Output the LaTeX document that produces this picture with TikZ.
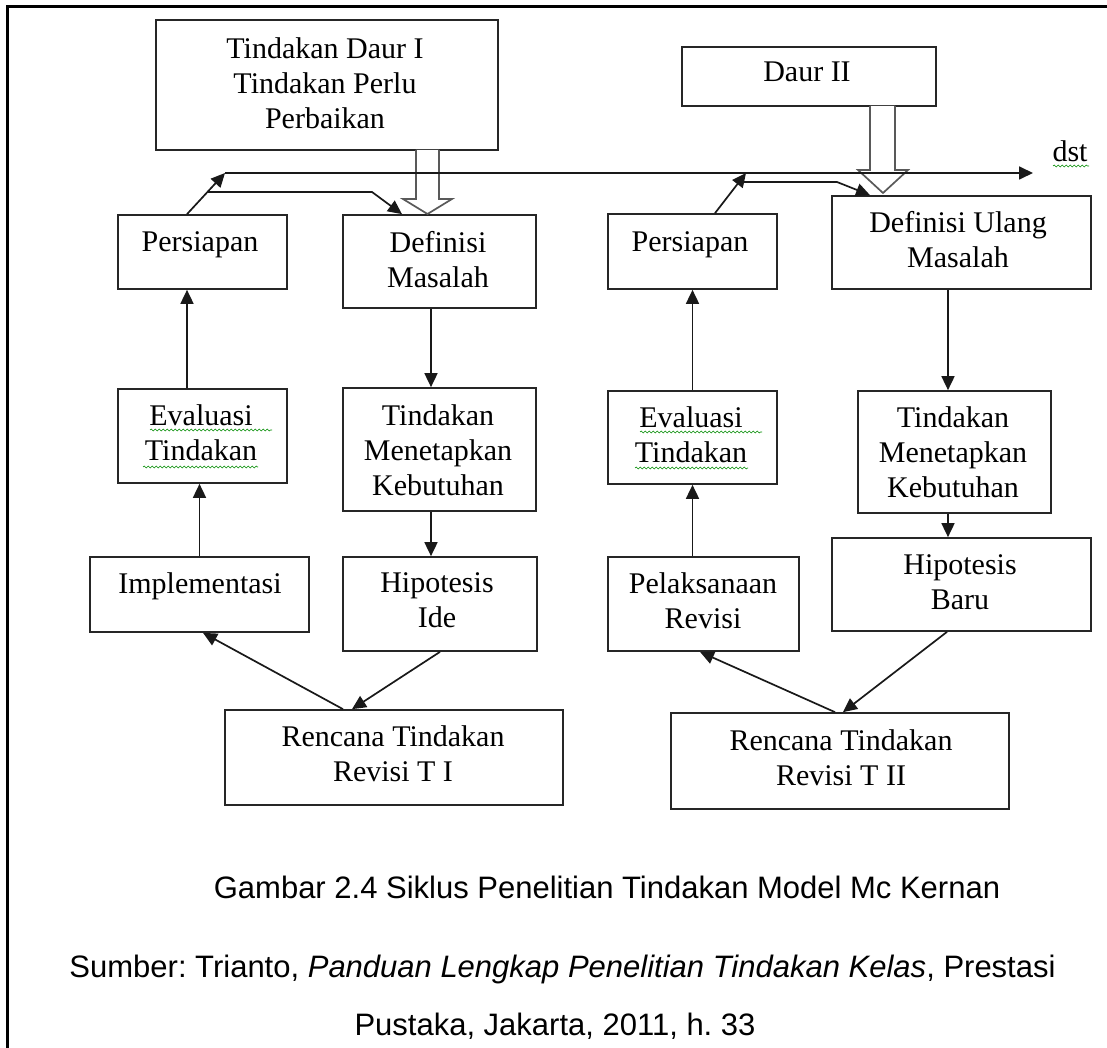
\documentclass[tikz,border=0pt]{standalone}
\usepackage{fontspec}
\setmainfont{Liberation Serif}
\newfontfamily\capfont{Liberation Sans}
\usetikzlibrary{arrows.meta,decorations.pathmorphing}
\frenchspacing

% box with corners (x1,y1)-(x2,y2), y growing downwards
\newcommand\boxat[5]{%
  \node[box, minimum width={(#4-#2)*1pt}, minimum height={(#5-#3)*1pt}]
    (#1) at ({(#2+#4)/2},{(#3+#5)/2}) {};}

\begin{document}
\begin{tikzpicture}[x=1pt,y=-1pt,
  box/.style={draw=black!85, line width=1.7pt, inner sep=0pt},
  txt/.style={inner sep=0pt, align=center, font=\fontsize{30}{35}\selectfont},
  arr/.style={draw=black!90, line width=1.7pt, -{Triangle[length=14pt,width=13pt]}},
  hollow/.style={draw=black!65, line width=1.7pt, fill=white, line join=miter},
  squig/.style={draw=green!55!black, line width=0.6pt,
    decorate, decoration={snake, amplitude=0.9pt, segment length=4pt}},
  captext/.style={inner sep=0pt, font=\capfont\fontsize{31}{36}\selectfont}
]
\useasboundingbox (0,0) rectangle (1107,1048);
\fill[white] (0,0) rectangle (1107,1048);

% outer frame (left and top edges)
\draw[line width=3pt] (7,1048) -- (7,7) -- (1107,7);

% ---- boxes ----
\boxat{daur1}{156}{20}{498}{150}
\boxat{daur2}{682}{47}{936}{106}
\boxat{pers1}{118}{215}{287}{289}
\boxat{def1}{343}{215}{536}{308}
\boxat{eval1}{118}{389}{287}{483}
\boxat{tind1}{343}{388}{536}{511}
\boxat{impl}{90}{557}{309}{632}
\boxat{hip1}{343}{557}{537}{651}
\boxat{ren1}{225}{710}{563}{805}
\boxat{pers2}{608}{214}{777}{289}
\boxat{def2}{832}{196}{1091}{289}
\boxat{eval2}{608}{391}{777}{484}
\boxat{tind2}{858}{391}{1051}{513}
\boxat{hip2}{832}{538}{1091}{631}
\boxat{pel}{608}{557}{799}{651}
\boxat{ren2}{671}{713}{1009}{809}

% ---- texts ----
\node[txt, anchor=north] (tdaur1) at (325,37.5) {Tindakan Daur I\\Tindakan Perlu\\Perbaikan};
\node[txt, anchor=base]  (tdaur2) at (807,82) {Daur II};
\node[txt, anchor=base]  (tpers1) at (200,252) {Persiapan};
\node[txt, anchor=north] (tdef1) at (438,231.5) {Definisi\\Masalah};
\node[txt, anchor=north] (teval1) at (201,404.5) {Evaluasi\\Tindakan};
\node[txt, anchor=north] (ttind1) at (438,404.5) {Tindakan\\Menetapkan\\Kebutuhan};
\node[txt, anchor=base]  (timpl) at (200,593) {Implementasi};
\node[txt, anchor=north] (thip1) at (437,572.5) {Hipotesis\\Ide};
\node[txt, anchor=north] (tren1) at (393,725.5) {Rencana Tindakan\\Revisi T I};
\node[txt, anchor=base]  (tpers2) at (690,252) {Persiapan};
\node[txt, anchor=north] (tdef2) at (958,211.5) {Definisi Ulang\\Masalah};
\node[txt, anchor=north] (teval2) at (691,406.5) {Evaluasi\\Tindakan};
\node[txt, anchor=north] (ttind2) at (953,406.5) {Tindakan\\Menetapkan\\Kebutuhan};
\node[txt, anchor=north] (thip2) at (960,554.5) {Hipotesis\\Baru};
\node[txt, anchor=north] (tpel) at (703,572.5) {Pelaksanaan\\Revisi};
\node[txt, anchor=north] (tren2) at (841,729.5) {Rencana Tindakan\\Revisi T II};
\node[txt, anchor=base]  (tdst) at (1070,162) {dst};

% spelling squiggles
\draw[squig] (150,430) -- (272,430);
\draw[squig] (143,467) -- (258,467);
\draw[squig] (640,432) -- (762,432);
\draw[squig] (635,468) -- (748,468);
\draw[squig] (1053,166) -- (1089,166);

% ---- hollow block arrows ----
\coordinate (h1) at (427.5,150);
\draw[hollow] (h1) ++(-11.5,0) -- ++(0,49) -- ++(-13,0) -- (427.5,214)
  -- (452,199) -- (439,199) -- (439,150);
\coordinate (h2) at (882.5,106);
\draw[hollow] (h2) ++(-12.5,0) -- ++(0,64) -- ++(-12,0) -- (883,193)
  -- (908,170) -- (895,170) -- (895,106);

% ---- connectors, left cycle ----
\coordinate (topL) at (225,173);
\coordinate (lineEnd) at (1033,173);
\coordinate (brL) at (208,192);
\coordinate (bkL) at (372,192);
\draw[arr] (topL) -- (lineEnd);
\draw[arr] ([xshift=-15.5pt]pers1.north) -- (topL);
\draw[arr] (brL) -- (bkL) -- ([xshift=-37.5pt]def1.north);
\draw[arr] ([xshift=-8.5pt]def1.south) -- ([xshift=-8.5pt]tind1.north);
\draw[arr] ([xshift=-8.5pt]tind1.south) -- ([xshift=-8.5pt]tind1.south |- hip1.north);
\draw[arr] (hip1.south) -- ([xshift=-42pt]ren1.north);
\draw[arr] ([xshift=-51pt]ren1.north) -- ([xshift=3.5pt]impl.south);
\draw[arr] (impl.north) -- (impl.north |- eval1.south);
\draw[arr] ([xshift=-15.5pt]eval1.north) -- ([xshift=-15.5pt]pers1.south);

% ---- connectors, right cycle ----
\coordinate (topR) at (746,173);
\coordinate (brR) at (741,182);
\coordinate (bkR) at (837,182);
\draw[arr] ([xshift=22.5pt]pers2.north) -- (topR);
\draw[arr] (brR) -- (bkR) -- ([xshift=-91.5pt]def2.north);
\draw[arr] ([xshift=-13.5pt]def2.south) -- ([xshift=-13.5pt]def2.south |- tind2.north);
\draw[arr] ([xshift=-13.5pt]def2.south |- tind2.south) -- ([xshift=-13.5pt]def2.south |- hip2.north);
\draw[arr] ([xshift=-14.5pt]hip2.south) -- ([xshift=3pt]ren2.north);
\draw[arr] ([xshift=-5pt]ren2.north) -- ([xshift=-3.5pt]pel.south);
\draw[arr] ([xshift=-11pt]pel.north) -- ([xshift=-11pt]pel.north |- eval2.south);
\draw[arr] (eval2.north) -- (eval2.north |- pers2.south);

% ---- caption ----
\node[captext, anchor=base] (cap1) at (607,898) {Gambar 2.4 Siklus Penelitian Tindakan Model Mc Kernan};
\node[captext, anchor=base] (cap2) at (562.5,977) {Sumber: Trianto, \textit{Panduan Lengkap Penelitian Tindakan Kelas}, Prestasi};
\node[captext, anchor=base] (cap3) at (555,1035) {Pustaka, Jakarta, 2011, h. 33};
\end{tikzpicture}
\end{document}
